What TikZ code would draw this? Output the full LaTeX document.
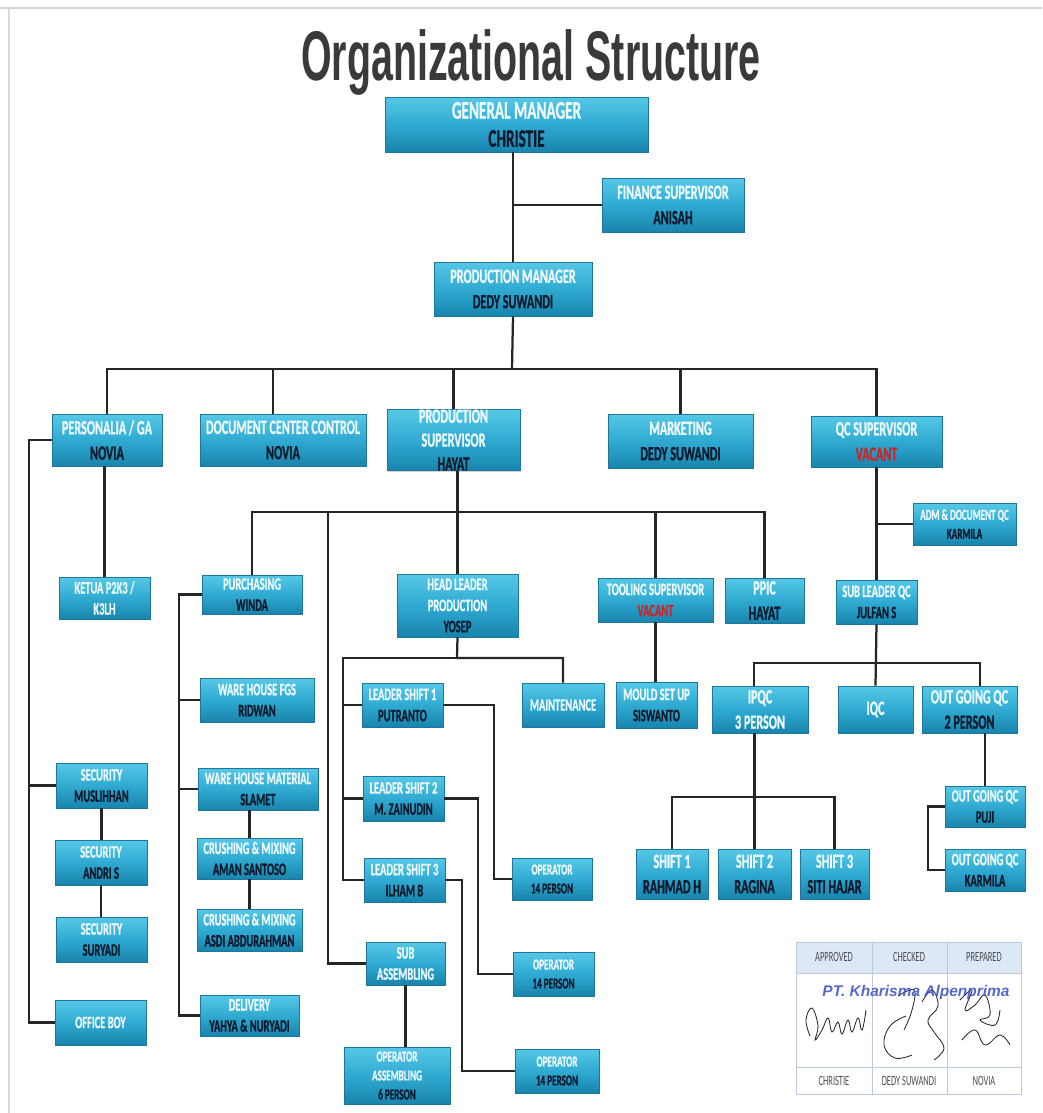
\documentclass[tikz,border=0pt]{standalone}
\usepackage{fontspec}
\usetikzlibrary{shadows}
\newfontfamily\boxfont[FakeStretch=0.6, BoldFeatures={FakeBold=0.8}]{Carlito}
\newfontfamily\titlefont[FakeStretch=0.56]{Liberation Sans}
\newfontfamily\stampfont{Liberation Sans}
\definecolor{boxtop}{RGB}{86,200,230}
\definecolor{boxmid}{RGB}{48,170,210}
\definecolor{boxbot}{RGB}{24,132,172}
\definecolor{boxedge}{RGB}{30,118,155}
\definecolor{boxtext}{RGB}{236,249,253}
\definecolor{namecol}{RGB}{12,26,46}
\definecolor{vacred}{RGB}{196,40,45}
\definecolor{titlegray}{RGB}{58,58,58}
\definecolor{headblue}{RGB}{220,232,246}
\definecolor{gridcol}{RGB}{188,200,220}
\definecolor{stampblue}{RGB}{58,78,196}
\newcommand{\nm}[1]{{\color{namecol}#1}}
\newcommand{\vac}[1]{{\color{vacred}#1}}

\begin{document}
\begin{tikzpicture}[x=0.025cm, y=-0.025cm,
      wh/.style 2 args={minimum width=#1*0.025cm, minimum height=#2*0.025cm}]
      \tikzstyle{unit}=[rectangle, inner sep=0pt, top color=boxtop, bottom color=boxbot, middle color=boxmid, draw=boxedge, line width=0.4pt, drop shadow={shadow xshift=0.6pt, shadow yshift=-1pt, opacity=0.35}, text=boxtext, align=center]
      \tikzstyle{fbig}=[font=\boxfont\bfseries\fontsize{18}{20}\selectfont]
      \tikzstyle{fmid}=[font=\boxfont\bfseries\fontsize{14.4}{18}\selectfont]
      \tikzstyle{fsmall}=[font=\boxfont\bfseries\fontsize{12.4}{15}\selectfont]
      \tikzstyle{ftiny}=[font=\boxfont\bfseries\fontsize{10.8}{13.5}\selectfont]
      \tikzstyle{connect}=[line width=1.6pt, black!85]
      \tikzstyle{grid}=[draw=gridcol, line width=0.6pt]
      \tikzstyle{sig}=[black!85, line width=0.6pt]

      \useasboundingbox (0,0) rectangle (1042,1113);
      \draw[gray!35, line width=2pt] (0,8) -- (1042,8);
      \draw[gray!30, line width=0.8pt] (9,8) -- (9,1113);

      \node[font=\titlefont\bfseries\fontsize{50}{50}\selectfont, text=titlegray, anchor=base] (title) at (531,80) {Organizational Structure};

      % management
      \node[unit, fbig, wh={263}{55}] (gm) at (516.5,124.5) {GENERAL MANAGER\\ \nm{CHRISTIE}};
      \node[unit, fmid, wh={142}{54}] (fin) at (673,205) {FINANCE SUPERVISOR\\ \nm{ANISAH}};
      \node[unit, fmid, wh={158}{54}] (pm) at (513,289) {PRODUCTION MANAGER\\ \nm{DEDY SUWANDI}};

      % departments
      \node[unit, fmid, wh={110}{52}] (pers) at (107,440) {PERSONALIA / GA\\ \nm{NOVIA}};
      \node[unit, fmid, wh={166}{52}] (dcc) at (283,440) {DOCUMENT CENTER CONTROL\\ \nm{NOVIA}};
      \node[unit, font=\boxfont\bfseries\fontsize{14.4}{17}\selectfont, wh={133}{54}] (ps) at (453.5,440) {PRODUCTION\\ SUPERVISOR\\ \nm{HAYAT}};
      \node[unit, fmid, wh={145}{54}] (mkt) at (680.5,441) {MARKETING\\ \nm{DEDY SUWANDI}};
      \node[unit, fmid, wh={131}{51}] (qc) at (876.5,441.5) {QC SUPERVISOR\\ \vac{VACANT}};

      % personalia
      \node[unit, fsmall, wh={91}{42}] (ketua) at (104.5,598) {KETUA P2K3 /\\ K3LH};
      \node[unit, fsmall, wh={91}{45}] (sec1) at (101.5,785.5) {SECURITY\\ \nm{MUSLIHHAN}};
      \node[unit, fsmall, wh={92}{45}] (sec2) at (101,862.5) {SECURITY\\ \nm{ANDRI S}};
      \node[unit, fsmall, wh={91}{45}] (sec3) at (101.5,939.5) {SECURITY\\ \nm{SURYADI}};
      \node[unit, fsmall, wh={91}{45}] (office) at (100.5,1022.5) {OFFICE BOY};

      % purchasing and stores
      \node[unit, fsmall, wh={100}{39}] (purch) at (252,594.5) {PURCHASING\\ \nm{WINDA}};
      \node[unit, fsmall, wh={114}{44}] (whfgs) at (257,700) {WARE HOUSE FGS\\ \nm{RIDWAN}};
      \node[unit, fsmall, wh={120}{42}] (whmat) at (258,789) {WARE HOUSE MATERIAL\\ \nm{SLAMET}};
      \node[unit, fsmall, wh={105}{41}] (crush1) at (249.5,858.5) {CRUSHING \& MIXING\\ \nm{AMAN SANTOSO}};
      \node[unit, fsmall, wh={105}{42}] (crush2) at (249.5,930) {CRUSHING \& MIXING\\ \nm{ASDI ABDURAHMAN}};
      \node[unit, fsmall, wh={99}{41}] (deliv) at (249.5,1015.5) {DELIVERY\\ \nm{YAHYA \& NURYADI}};

      % production floor
      \node[unit, fsmall, wh={121}{63}] (hlp) at (457.5,605.5) {HEAD LEADER\\ PRODUCTION\\ \nm{YOSEP}};
      \node[unit, fsmall, wh={82}{44}] (maint) at (563,705) {MAINTENANCE};
      \node[unit, fsmall, wh={81}{44}] (ls1) at (402.5,705) {LEADER SHIFT 1\\ \nm{PUTRANTO}};
      \node[unit, fsmall, wh={81}{45}] (ls2) at (403.5,798.5) {LEADER SHIFT 2\\ \nm{M. ZAINUDIN}};
      \node[unit, fsmall, wh={81}{44}] (ls3) at (404.5,880) {LEADER SHIFT 3\\ \nm{ILHAM B}};
      \node[unit, fsmall, wh={79}{43}] (subas) at (405.5,963.5) {SUB\\ ASSEMBLING};
      \node[unit, ftiny, wh={106}{57}] (opas) at (397,1075.5) {OPERATOR\\ ASSEMBLING\\ \nm{6 PERSON}};
      \node[unit, ftiny, wh={80}{42}] (op1) at (552,879) {OPERATOR\\ \nm{14 PERSON}};
      \node[unit, ftiny, wh={81}{44}] (op2) at (553.5,974) {OPERATOR\\ \nm{14 PERSON}};
      \node[unit, ftiny, wh={84}{44}] (op3) at (557,1071) {OPERATOR\\ \nm{14 PERSON}};

      % tooling and ppic
      \node[unit, fsmall, wh={115}{44}] (tool) at (655.5,600) {TOOLING SUPERVISOR\\ \vac{VACANT}};
      \node[unit, fmid, wh={79}{45}] (ppic) at (764.5,600.5) {PPIC\\ \nm{HAYAT}};
      \node[unit, fsmall, wh={81}{46}] (mould) at (656.5,705) {MOULD SET UP\\ \nm{SISWANTO}};

      % quality
      \node[unit, ftiny, wh={103}{42}] (adm) at (964.5,524) {ADM \& DOCUMENT QC\\ \nm{KARMILA}};
      \node[unit, fsmall, wh={81}{44}] (slqc) at (876.5,602) {SUB LEADER QC\\ \nm{JULFAN S}};
      \node[unit, fmid, wh={96}{47}] (ipqc) at (760,709.5) {IPQC\\ 3 PERSON};
      \node[unit, fmid, wh={75}{47}] (iqc) at (875.5,709.5) {IQC};
      \node[unit, fmid, wh={95}{47}] (ogqc) at (969.5,709.5) {OUT GOING QC\\ \nm{2 PERSON}};
      \node[unit, fsmall, wh={80}{41}] (puji) at (985,806.5) {OUT GOING QC\\ \nm{PUJI}};
      \node[unit, fsmall, wh={80}{42}] (karm) at (985,870) {OUT GOING QC\\ \nm{KARMILA}};
      \node[unit, fmid, wh={72}{50}] (sh1) at (672,874) {SHIFT 1\\ \nm{RAHMAD H}};
      \node[unit, fmid, wh={73}{50}] (sh2) at (754.5,874) {SHIFT 2\\ \nm{RAGINA}};
      \node[unit, fmid, wh={69}{50}] (sh3) at (834.5,874) {SHIFT 3\\ \nm{SITI HAJAR}};

      \coordinate (bus1) at (512,369);
      \coordinate (bus2) at (457,512);
      \coordinate (bus3) at (457,658);
      \coordinate (bus4) at (876,663);
      \coordinate (bus5) at (754,797);
      \coordinate (pspine) at (29,0);
      \coordinate (bspine) at (179,0);
      \coordinate (sspine) at (328,512);
      \coordinate (lspine) at (343,658);
      \coordinate (dcctap) at ([xshift=-0.25cm]dcc.north);
      \coordinate (ipqctap) at ([xshift=-0.15cm]ipqc.north);
      \coordinate (ogqctap) at ([xshift=0.26cm]ogqc.north);

      \path (pm.north) edge [connect] (pm.north |- gm.south)
            (fin.west) edge [connect] (fin.west -| pm.north)
            (pm.south) edge [connect] (bus1);
      \draw[connect] (pers.north) |- (bus1) -| (qc.north);
      \path (dcctap) edge [connect] (dcctap |- bus1)
            (ps.north) edge [connect] (ps.north |- bus1)
            (mkt.north) edge [connect] (mkt.north |- bus1);

      \draw[connect] (ketua.north) -- (ketua.north |- pers.south);
      \draw[connect] (pers.west) -| (pspine |- office.west) -- (office.west);
      \path (sec1.west) edge [connect] (sec1.west -| pspine)
            (sec1.south) edge [connect] (sec1.south |- sec2.north)
            (sec2.south) edge [connect] (sec2.south |- sec3.north);

      \draw[connect] (hlp.north) -- (hlp.north |- ps.south);
      \draw[connect] (purch.north) |- (bus2) -| (ppic.north);
      \path (tool.north) edge [connect] (tool.north |- bus2)
            (tool.south) edge [connect] (tool.south |- mould.north);
      \draw[connect] (sspine) |- (subas.west);

      \draw[connect] (purch.west) -| (bspine |- deliv.west) -- (deliv.west);
      \path (whfgs.west) edge [connect] (whfgs.west -| bspine)
            (whmat.west) edge [connect] (whmat.west -| bspine);
      \draw[connect] (crush1.north) -- (crush1.north |- whmat.south);
      \draw[connect] (crush1.south) -- (crush1.south |- crush2.north);

      \draw[connect] (hlp.south) -- (bus3) -| (maint.north);
      \draw[connect] (bus3) -- (lspine) |- (ls3.west);
      \path (ls1.west) edge [connect] (ls1.west -| lspine)
            (ls2.west) edge [connect] (ls2.west -| lspine);
      \draw[connect] (ls1.east) -- ++(51,0) |- (op1.west);
      \draw[connect] (ls2.east) -- ++(34,0) |- (op2.west);
      \draw[connect] (ls3.east) -- ++(17,0) |- (op3.west);
      \draw[connect] (subas.south) -- (subas.south |- opas.north);

      \path (qc.south) edge [connect] (slqc.north)
            (adm.west) edge [connect] (adm.west -| qc.south)
            (slqc.south) edge [connect] (iqc.north);
      \draw[connect] (ipqctap) |- (bus4) -| (ogqctap);
      \draw[connect] (sh2.north) -- (sh2.north |- ipqc.south);
      \draw[connect] (sh1.north) |- (bus5) -| (sh3.north);
      \draw[connect] (puji.north) -- (puji.north |- ogqc.south);
      \draw[connect] (puji.west) -- ++(-17,0) |- (karm.west);

      % sign-off table
      \fill[headblue] (796,942) rectangle (1021,973);
      \draw[grid] (796,942) rectangle (1021,1094);
      \draw[grid] (796,973) -- (1021,973) (796,1067) -- (1021,1067);
      \draw[grid] (872,942) -- (872,1094) (947,942) -- (947,1094);
      \tikzstyle{cell}=[font=\boxfont\fontsize{10}{12}\selectfont, text=black!70]
      \node[cell] (apv) at (834,957) {APPROVED};
      \node[cell] (chk) at (909,957) {CHECKED};
      \node[cell] (prp) at (984,957) {PREPARED};
      \node[cell] (apvn) at (834,1081) {CHRISTIE};
      \node[cell] (chkn) at (909,1081) {DEDY SUWANDI};
      \node[cell] (prpn) at (984,1081) {NOVIA};
      \draw[sig] plot[smooth, tension=0.7] coordinates {(810,1036) (806,1020) (812,1008) (818,1026) (815,1040) (822,1030) (828,1018) (832,1032) (838,1022) (842,1034) (848,1020) (852,1032) (858,1018) (862,1030) (866,1010)};
      \draw[sig] plot[smooth, tension=0.7] coordinates {(906,1016) (890,1026) (884,1045) (895,1058) (912,1055)};
      \draw[sig] plot[smooth, tension=0.7] coordinates {(898,996) (914,990) (912,1010) (904,1030)};
      \draw[sig] plot[smooth, tension=0.7] coordinates {(922,1002) (932,990) (938,1006) (928,1020) (934,1032) (944,1048) (934,1060)};
      \draw[sig] plot[smooth, tension=0.7] coordinates {(960,1000) (972,990) (965,1010) (975,1005) (985,995) (990,1015) (980,1020) (995,1025) (1000,1010)};
      \draw[sig] plot[smooth, tension=0.7] coordinates {(962,1040) (975,1030) (985,1045) (1000,1035) (1010,1045)};
      \node[font=\stampfont\bfseries\itshape\fontsize{11}{11}\selectfont, text=stampblue, opacity=0.85] (stamp) at (916,992) {PT. Kharisma Alpenprima};
\end{tikzpicture}
\end{document}
